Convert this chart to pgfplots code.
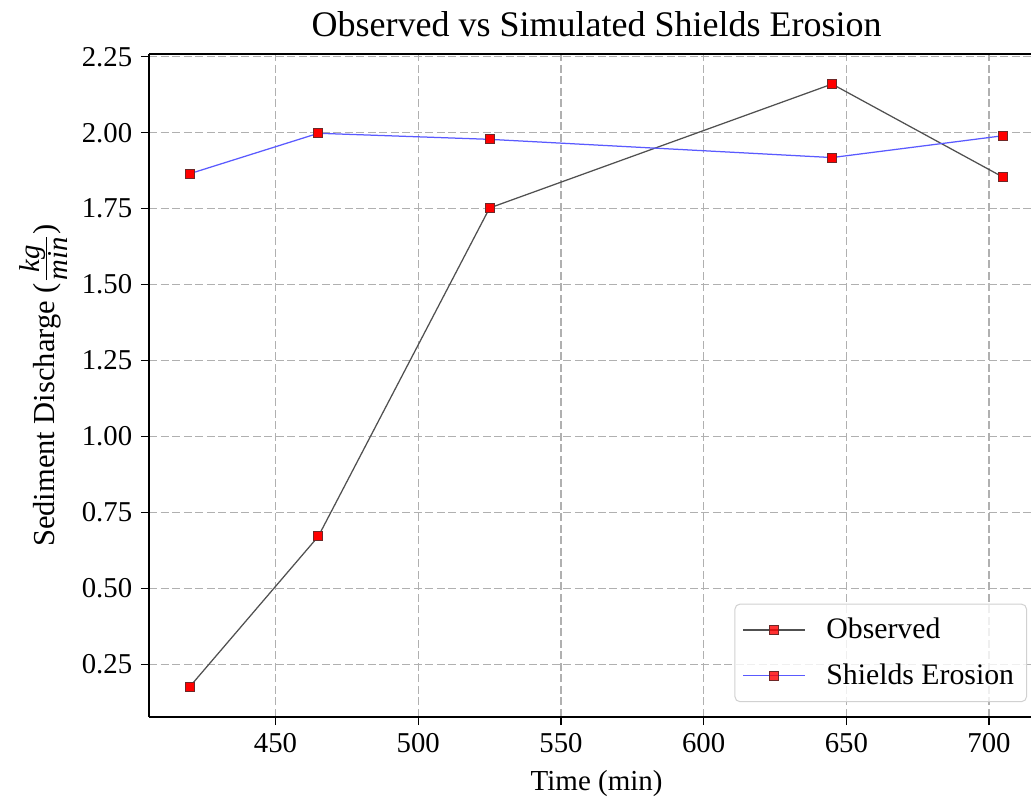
\documentclass[border=0pt]{standalone}
\usepackage{fontspec}
\setmainfont{Liberation Serif}
\usepackage{pgfplots}
\pgfplotsset{compat=1.18}
\definecolor{obsline}{RGB}{80,80,80}
\definecolor{shline}{RGB}{90,90,255}
\definecolor{gridc}{RGB}{176,176,176}
\definecolor{mkedge}{RGB}{110,40,40}
\begin{document}
\begin{tikzpicture}
\begin{axis}[
  width=352.7pt, height=265.1pt, scale only axis,
  xmin=405.75, xmax=714.7, ymin=0.077, ymax=2.259,
  separate axis lines,
  axis x line*=box, axis y line*=left,
  xtick={450,500,550,600,650,700},
  ytick={0.25,0.5,0.75,1.0,1.25,1.5,1.75,2.0,2.25},
  xtick pos=bottom, ytick pos=left,
  tick align=outside, major tick length=3.3pt,
  tick style={black, line width=0.5pt},
  axis line style={black, line width=0.7pt},
  /pgf/number format/assume math mode=true,
  yticklabel style={/pgf/number format/.cd, fixed, fixed zerofill, precision=2},
  xticklabel style={/pgf/number format/.cd, fixed, 1000 sep={}},
  ticklabel style={font=\fontsize{11.5}{13}\selectfont},
  grid=major,
  major grid style={gridc, line width=0.5pt, dash pattern=on 3.2pt off 1.4pt},
  title={Observed vs Simulated Shields Erosion},
  title style={font=\fontsize{14.4}{16}\selectfont, xshift=2.6pt, yshift=-2.8pt},
  xlabel={Time (min)},
  xlabel style={font=\fontsize{11.6}{14}\selectfont, xshift=2.6pt},
  ylabel={Sediment Discharge ($\frac{\mbox{\fontsize{11.5}{12}\selectfont\itshape kg}}{\mbox{\fontsize{11.5}{12}\selectfont\itshape min}}$)},
  ylabel style={font=\fontsize{12.2}{14}\selectfont, yshift=-1pt},
  legend style={at={(rel axis cs:0.9955,0.022)}, anchor=south east,
    draw=black!18, rounded corners=2pt, fill=white, fill opacity=0.8, text opacity=1,
    font=\fontsize{11.9}{14}\selectfont, row sep=4.5pt, inner xsep=3pt, inner ysep=3.5pt,
    /tikz/every odd column/.append style={column sep=6.5pt}},
  legend cell align=left,
  legend image code/.code={\draw[mark repeat=2,mark phase=2,#1] plot coordinates {(0pt,0pt) (12.3pt,0pt) (24.6pt,0pt)};},
]
\addplot[obsline, line width=0.5pt, mark=square*, mark size=1.8pt,
  mark options={fill=red, draw=mkedge, line width=0.4pt, solid}]
  coordinates {(420,0.1765) (465,0.671) (525,1.752) (645,2.160) (705,1.853)};
\addlegendentry{Observed}
\addplot[shline, line width=0.5pt, mark=square*, mark size=1.8pt,
  mark options={fill=red, draw=mkedge, line width=0.4pt, solid}]
  coordinates {(420,1.865) (465,1.998) (525,1.978) (645,1.918) (705,1.990)};
\addlegendentry{Shields Erosion}
\end{axis}
\pgfresetboundingbox
\useasboundingbox (-59.7pt,-34.1pt) rectangle (352.7pt,286.7pt);
\end{tikzpicture}
\end{document}
